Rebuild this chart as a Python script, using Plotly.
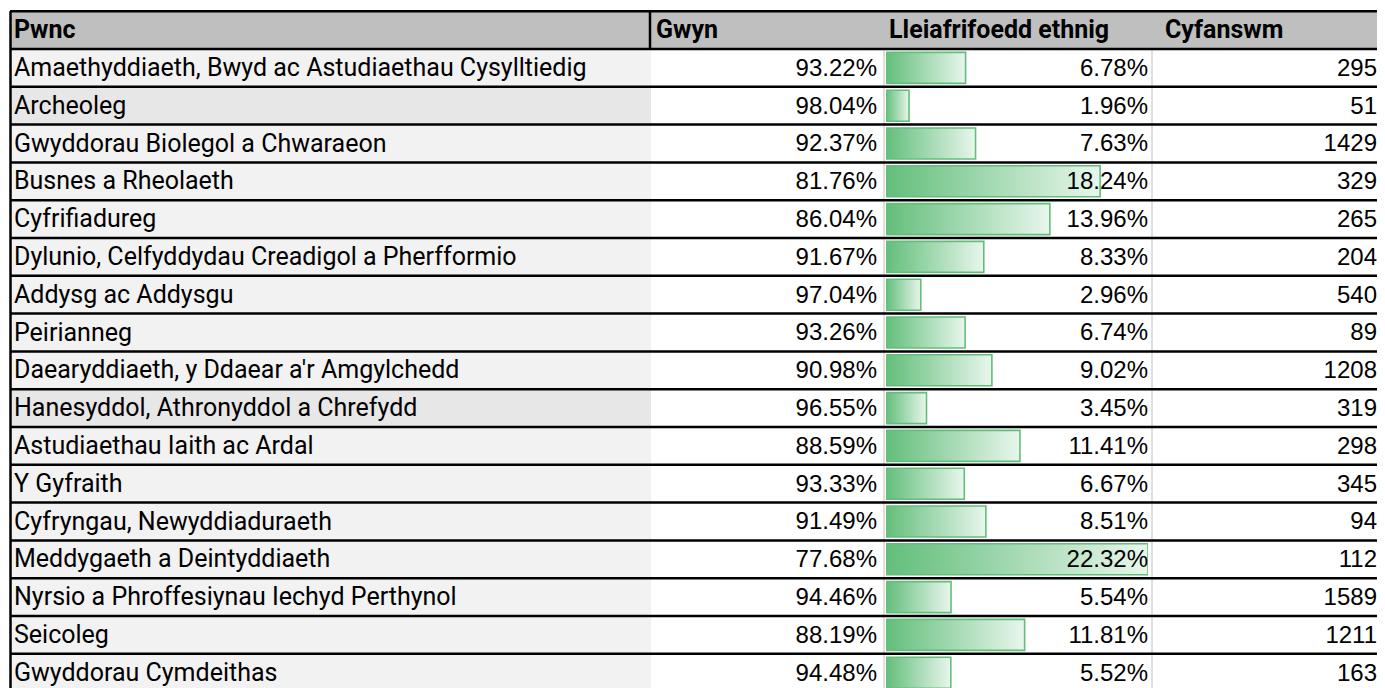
import plotly.graph_objects as go

pynciau = [
    "Amaethyddiaeth, Bwyd ac Astudiaethau Cysylltiedig",
    "Archeoleg",
    "Gwyddorau Biolegol a Chwaraeon",
    "Busnes a Rheolaeth",
    "Cyfrifiadureg",
    "Dylunio, Celfyddydau Creadigol a Pherfformio",
    "Addysg ac Addysgu",
    "Peirianneg",
    "Daearyddiaeth, y Ddaear a'r Amgylchedd",
    "Hanesyddol, Athronyddol a Chrefydd",
    "Astudiaethau Iaith ac Ardal",
    "Y Gyfraith",
    "Cyfryngau, Newyddiaduraeth",
    "Meddygaeth a Deintyddiaeth",
    "Nyrsio a Phroffesiynau Iechyd Perthynol",
    "Seicoleg",
    "Gwyddorau Cymdeithas",
]
gwyn = [93.22, 98.04, 92.37, 81.76, 86.04, 91.67, 97.04, 93.26, 90.98, 96.55,
        88.59, 93.33, 91.49, 77.68, 94.46, 88.19, 94.48]
lleiafrifoedd = [6.78, 1.96, 7.63, 18.24, 13.96, 8.33, 2.96, 6.74, 9.02, 3.45,
                 11.41, 6.67, 8.51, 22.32, 5.54, 11.81, 5.52]
cyfanswm = [295, 51, 1429, 329, 265, 204, 540, 89, 1208, 319, 298, 345, 94, 112,
            1589, 1211, 163]
penawdau = ["Pwnc", "Gwyn", "Lleiafrifoedd ethnig", "Cyfanswm"]
rhesi_tywyll = ["Archeoleg", "Hanesyddol, Athronyddol a Chrefydd"]

W, H = 1385, 688
OFF = 8  # body margin of the page
FW, FH = W - OFF, H - OFF  # figure fills the window after the margin
n = len(pynciau)
rows = list(range(n))
text_rows = [r + 0.05 for r in rows]  # nudge text down a touch
GREEN = "#63be7b"
bar_max = max(lleiafrifoedd)

fig = go.Figure()

num_font = dict(family="Liberation Sans, Arial", size=24, color="#000")
txt_font = dict(family="Roboto", size=25, color="#000")
hdr_font = dict(family="Roboto", size=25, color="#000", weight="bold")

fig.add_trace(go.Scatter(x=[14] * n, y=text_rows, text=pynciau, mode="text",
                         textposition="middle right", textfont=txt_font,
                         showlegend=False, hoverinfo="skip"))
fig.add_trace(go.Scatter(x=[877] * n, y=text_rows, text=[f"{v:.2f}%" for v in gwyn],
                         mode="text", textposition="middle left", textfont=num_font,
                         showlegend=False, hoverinfo="skip"))
fig.add_trace(go.Scatter(x=[1377] * n, y=text_rows, text=[str(v) for v in cyfanswm],
                         mode="text", textposition="middle left", textfont=num_font,
                         showlegend=False, hoverinfo="skip"))
fig.add_trace(go.Scatter(x=[14, 656, 889, 1165], y=[-0.95] * 4, text=penawdau,
                         mode="text", textposition="middle right", textfont=hdr_font,
                         showlegend=False, hoverinfo="skip", cliponaxis=False))

# data bars (Excel style gradient)
for i, v in enumerate(lleiafrifoedd):
    h = 0.41
    fig.add_trace(go.Scatter(
        x=[0, v, v, 0, 0], y=[i - h, i - h, i + h, i + h, i - h],
        xaxis="x2", yaxis="y", mode="lines", fill="toself",
        fillgradient=dict(type="horizontal",
                          colorscale=[[0, GREEN], [1, "#e8f6ec"]]),
        line=dict(color=GREEN, width=1.6), hoverinfo="skip", showlegend=False))

# minority values on top of the bars
fig.add_trace(go.Scatter(x=[bar_max] * n, y=text_rows,
                         text=[f"{v:.2f}%" for v in lleiafrifoedd],
                         xaxis="x2", yaxis="y", cliponaxis=False,
                         mode="text", textposition="middle left", textfont=num_font,
                         showlegend=False, hoverinfo="skip"))

shapes = []
# header fill
shapes.append(dict(type="rect", xref="x", yref="y", x0=10, x1=1383, y0=-1.5, y1=-0.5,
                   fillcolor="#bfbfbf", line_width=0, layer="below"))
# first column fills
for i, p in enumerate(pynciau):
    col = "#e7e7e7" if p in rhesi_tywyll else "#f2f2f2"
    shapes.append(dict(type="rect", xref="x", yref="y", x0=10, x1=651,
                       y0=i - 0.5, y1=i + 0.5, fillcolor=col, line_width=0,
                       layer="below"))
# light vertical gridlines
for xv in [884, 1152]:
    shapes.append(dict(type="line", xref="x", yref="y", x0=xv, x1=xv,
                       y0=-0.5, y1=n + 0.5, line=dict(color="#d6d6d6", width=1.5),
                       layer="below"))
# row borders
for k in range(-1, n + 1):
    shapes.append(dict(type="line", xref="x", yref="y", x0=10, x1=1383,
                       y0=k - 0.5, y1=k - 0.5, line=dict(color="#000", width=2.5)))
# outer borders + header divider
shapes.append(dict(type="line", xref="x", yref="y", x0=10.5, x1=10.5, y0=-1.5,
                   y1=n + 0.5, line=dict(color="#000", width=2.5)))
shapes.append(dict(type="line", xref="x", yref="y", x0=1382, x1=1382, y0=-1.5,
                   y1=n + 0.5, line=dict(color="#000", width=2.5)))
shapes.append(dict(type="line", xref="x", yref="y", x0=650, x1=650, y0=-1.5,
                   y1=-0.5, line=dict(color="#000", width=2.5)))

row_h = 37.8
row0 = 49 + row_h / 2
y_top = (OFF - row0) / row_h
y_bot = (H - row0) / row_h

fig.update_layout(
    width=FW, height=FH, margin=dict(l=0, r=0, t=0, b=0),
    paper_bgcolor="white", plot_bgcolor="rgba(0,0,0,0)", shapes=shapes,
    xaxis=dict(range=[OFF, W], visible=False, fixedrange=True),
    xaxis2=dict(range=[0, bar_max],
                domain=[(886 - OFF) / FW, (1148 - OFF) / FW],
                anchor="y", visible=False),
    yaxis=dict(range=[y_bot, y_top], visible=False),
)

fig.write_html("out.html")
